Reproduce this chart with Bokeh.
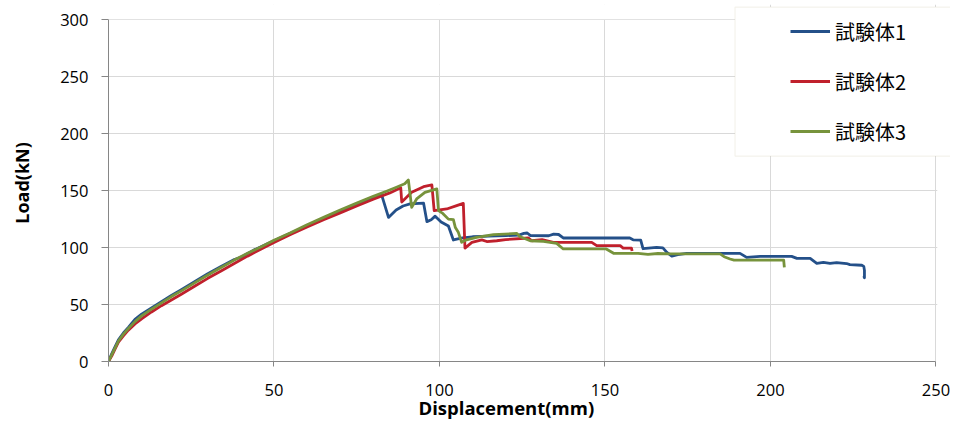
from bokeh.plotting import figure
from bokeh.models import Legend, LegendItem, BoxAnnotation, Title, FixedTicker, Range1d
from bokeh.embed import file_html
from bokeh.resources import INLINE

# ---------------- data ----------------
series_names = ["試験体1", "試験体2", "試験体3"]
series_colors = ["#245089", "#C0202C", "#77933C"]

x_ticks = [0, 50, 100, 150, 200, 250]
y_ticks = [0, 50, 100, 150, 200, 250, 300]
x_title = "Displacement(mm)"
y_title = "Load(kN)"

x1 = [0, 1, 2, 3, 4.5, 6, 8, 10, 13, 16,
      19, 22, 26, 30, 34, 38, 40, 44, 50, 55,
      60, 65, 70, 75, 80, 82.5, 84.6, 86.9, 89, 91.1,
      95.2, 96.2, 97.5, 98.7, 100.5, 102.7, 104.2, 105.2, 107, 110,
      115, 120, 124, 125.5, 126.5, 127.5, 133, 134.5, 136, 137.5,
      157.5, 158.5, 160.8, 161.5, 165.6, 167.5, 168.7, 170.2, 172, 174.7,
      190.8, 192.8, 196.9, 206.4, 208, 212, 214, 216, 218, 220,
      223, 224, 227.6, 228.2, 228.4, 228.4, 228.2]
y1 = [0, 7, 13, 19, 25, 30, 37, 41.5, 47, 52.5,
      58, 63, 70, 77, 83.5, 89.5, 91.5, 98, 106, 112.5,
      119, 125.5, 132, 138, 143.5, 146.5, 126.5, 133, 136.5, 138.3,
      139, 122.8, 124.5, 127.6, 122.5, 119, 106.7, 107.5, 108.5, 109.5,
      110, 110.5, 111, 112.5, 112.8, 110.5, 110.4, 111.8, 111.5, 108.4,
      108.4, 106.8, 106.5, 99, 100.2, 99.8, 95.8, 92.5, 93.8, 94.9,
      94.9, 91.4, 92.3, 92.3, 90.5, 90.5, 86.1, 87, 86.2, 86.8,
      86, 85, 84.5, 83.5, 80, 73.5, 75]

x2 = [0, 1, 2, 3, 4.5, 6, 8, 10, 13, 16,
      19, 22, 26, 30, 34, 38, 42, 46, 50, 55,
      60, 65, 70, 75, 80, 85, 88.3, 88.6, 91.6, 95.2,
      97.7, 98.4, 102.2, 105.2, 107.2, 107.7, 109.8, 112.8, 114.3, 117.3,
      120, 126.9, 127.9, 131, 134.4, 146, 147.5, 154.6, 155.5, 158,
      158.2]
y2 = [0, 5, 11, 17, 22.5, 27.5, 33, 37.5, 43.5, 49,
      54, 59, 66, 73, 79.5, 86, 92.5, 98.5, 104.5, 111.5,
      118, 124.5, 130.5, 136.5, 142.5, 148, 152.5, 140, 148.5, 153.5,
      155, 132.4, 133.9, 136.8, 138.8, 99.6, 104.6, 106.8, 105.3, 106,
      107, 108.4, 106, 107, 104.6, 104.6, 101.7, 101.7, 99.6, 99.6,
      97]

x3 = [0, 1, 2, 3, 4.5, 6, 8, 10, 13, 16,
      19, 22, 26, 30, 34, 38, 42, 46, 50, 55,
      60, 65, 70, 75, 80, 84, 87, 89.5, 90.6, 91.6,
      93.1, 95.6, 99.2, 99.7, 101, 102.7, 104.2, 104.8, 105.7, 106.7,
      108.2, 111.2, 116.3, 123.4, 124.4, 127.4, 131.4, 135.4, 137.4, 150.4,
      152.6, 160, 163, 166, 170, 184.8, 186, 187.8, 189, 204,
      204.2]
y3 = [0, 6, 12, 18, 24, 29, 35, 40, 46, 51.5,
      57, 62, 69, 76, 82.5, 89, 95, 100.5, 106.5, 113,
      120, 126.5, 133, 139, 145, 149.5, 153, 156, 159.4, 135.3,
      142.7, 148.5, 151.5, 132.4, 130, 125, 124.5, 117.6, 113.4, 104.6,
      106.8, 109, 111.3, 112.4, 109.5, 106, 105.4, 103.7, 98.8, 98.8,
      95, 95, 94, 94.8, 94.4, 94.4, 92, 90, 89, 89,
      82.6]

# ---------------- figure ----------------
FONT = "Open Sans"
XMAX, YMAX = x_ticks[-1], y_ticks[-1]
p = figure(width=950, height=428,
           x_range=Range1d(0, 254.4), y_range=Range1d(0, 313.4),
           output_backend="svg", toolbar_location=None,
           min_border_left=108, min_border_right=0,
           min_border_top=4, min_border_bottom=67)
p.outline_line_color = None
p.background_fill_color = "white"
p.border_fill_color = "white"

p.xaxis.ticker = FixedTicker(ticks=x_ticks)
p.yaxis.ticker = FixedTicker(ticks=y_ticks)
p.xgrid.ticker = FixedTicker(ticks=x_ticks)
p.ygrid.ticker = FixedTicker(ticks=y_ticks)
p.grid.grid_line_color = "#d9d9d9"
p.grid.grid_line_width = 1
p.xaxis.bounds = (0, XMAX)
p.yaxis.bounds = (0, YMAX)

for ax in (p.xaxis, p.yaxis):
    ax.axis_line_color = "#868686"
    ax.major_tick_line_color = "#868686"
    ax.minor_tick_line_color = None
    ax.major_tick_in = 0
    ax.major_label_text_font = FONT
    ax.major_label_text_font_size = "16.5px"
    ax.major_label_text_color = "#000000"
p.xaxis.major_tick_out = 5
p.yaxis.major_tick_out = 7
p.xaxis.major_label_standoff = 17
p.yaxis.major_label_standoff = 13

p.yaxis.axis_label = y_title
p.yaxis.axis_label_text_font = FONT
p.yaxis.axis_label_text_font_size = "18px"
p.yaxis.axis_label_text_font_style = "bold"
p.yaxis.axis_label_text_color = "#000000"
p.yaxis.axis_label_standoff = 23

p.add_layout(Title(text=x_title, align="left", offset=310, standoff=-11,
                   text_font=FONT, text_font_size="18.5px", text_font_style="bold",
                   text_color="#000000"), "below")

renderers = []
for xs, ys, c in zip([x1, x2, x3], [y1, y2, y3], series_colors):
    r = p.line(xs, ys, line_color=c, line_width=2.8, line_join="round")
    renderers.append(r)

# white masks: keep grid lines inside the 0..250 / 0..300 plot area
p.add_layout(BoxAnnotation(left=-5, right=189.3, bottom=YMAX + 0.5, top=330,
                           fill_color="white", fill_alpha=1.0, line_color=None))
p.add_layout(BoxAnnotation(left=XMAX + 0.4, right=300, bottom=-10, top=181,
                           fill_color="white", fill_alpha=1.0, line_color=None))

# legend frame
p.add_layout(BoxAnnotation(left=189.3, right=300, top=311.1, bottom=180.3,
                           fill_color="white", fill_alpha=1.0,
                           line_color="#d9d5bf", line_width=1.2))

legend = Legend(items=[LegendItem(label=n, renderers=[r]) for n, r in zip(series_names, renderers)],
                location=(682, 214), orientation="vertical",
                glyph_width=40, glyph_height=32, label_height=32, spacing=18,
                padding=0, margin=0, border_line_color=None,
                background_fill_alpha=0, label_standoff=5,
                label_text_font="Noto Sans CJK JP", label_text_font_size="20px",
                label_text_color="#000000")
p.add_layout(legend)

open("out.html", "w").write(file_html(p, INLINE))
